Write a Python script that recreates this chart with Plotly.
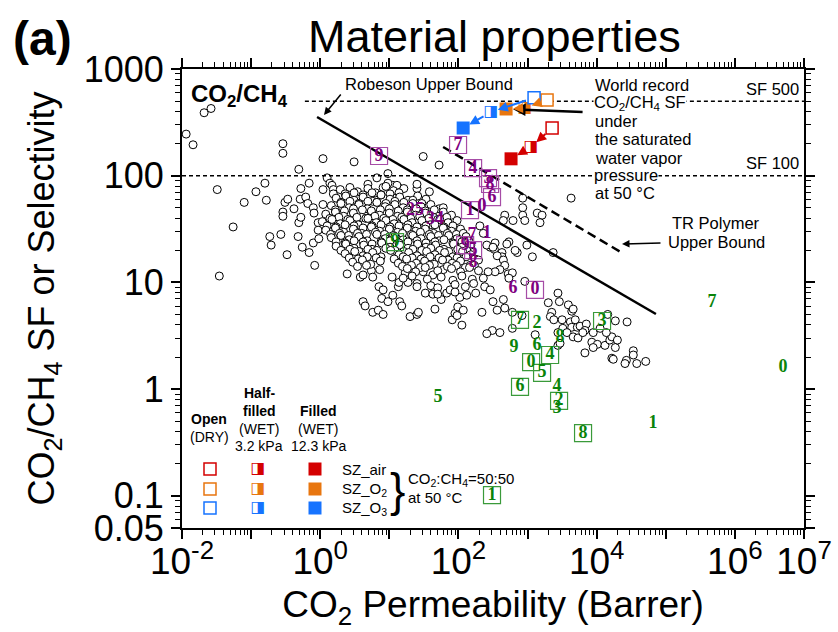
import numpy as np
import plotly.graph_objects as go

# ---------------- data ----------------
# Robeson database points, as (log10 permeability [Barrer], log10 selectivity)
db_pairs_log = [
    # scattered left / upper points
    (-1.94, 2.39), (-1.84, 2.29), (-1.68, 2.59), (-1.58, 2.63), (-1.49, 1.87), (-1.26, 1.52),
    (-1.46, 1.06), (-1.10, 1.75), (-0.93, 1.85), (-0.80, 1.93), (-0.78, 1.77), (-0.73, 1.43),
    (-0.71, 1.35), (-0.57, 1.45), (-0.48, 1.26), (-0.54, 1.66), (-0.54, 1.62), (-0.51, 1.75),
    (-0.47, 1.78), (-0.38, 1.69), (-0.32, 1.43), (-0.26, 1.33), (-0.31, 1.56), (-0.28, 1.61),
    (-0.29, 1.78), (-0.28, 1.88), (-0.21, 1.80), (-0.16, 1.28), (-0.16, 1.93), (-0.10, 1.37),
    (-0.08, 1.16), (-0.18, 1.74), (-0.10, 1.70), (-0.09, 1.65), (-0.02, 1.41), (-0.03, 1.56),
    (-0.03, 1.49), (0.04, 1.87), (0.04, 1.73), (0.10, 1.98), (0.14, 1.93), (0.17, 1.91),
    (0.19, 1.87), (0.19, 1.83), (-0.54, 2.30), (-0.54, 2.21), (-0.31, 2.06), (0.04, 2.16),
    (0.49, 2.13), (0.98, 2.02), (0.82, 1.98), (0.69, 1.92), (1.49, 2.18), (1.72, 2.10),
    (1.40, 1.88), (1.13, 1.89), (1.05, 1.91), (0.98, 1.93), (0.91, 1.89), (1.11, 1.91), (1.40, 1.92),
    # points right of the main cloud
    (3.63, 1.79), (2.93, 1.79), (2.93, 1.70), (2.93, 1.63), (3.14, 1.65), (3.21, 1.63),
    (2.67, 1.63), (2.65, 1.58), (2.79, 1.58), (2.96, 1.58), (3.18, 1.56), (2.73, 1.38),
    (2.85, 1.28), (2.99, 1.35), (3.37, 1.28), (2.53, 1.37), (2.63, 1.28), (2.31, 1.53),
    (2.36, 1.46), (2.46, 1.33), (3.07, 1.24), (2.70, 1.36), (2.96, 1.01), (2.72, 1.08),
    (2.63, 1.24), (2.52, 1.31), (2.56, 1.25), (2.41, 1.35), (2.50, 1.33), (2.65, 1.21),
    (2.67, 1.16), (2.82, 1.30), (2.78, 1.09), (2.73, 1.04), (2.60, 1.12), (2.53, 1.10),
    (2.43, 1.10), (2.36, 1.04), (2.38, 0.96), (2.46, 0.93), (2.50, 0.82), (2.65, 0.84),
    (2.67, 0.76), (2.56, 0.74), (2.34, 0.72), (2.78, 0.72), (2.78, 0.57), (2.92, 0.69),
    (2.49, 0.55), (2.60, 0.53), (2.41, 0.52), (3.11, 0.51), (3.44, 0.90), (3.30, 0.81),
    (3.35, 0.72), (3.33, 0.68), (3.38, 0.65), (3.46, 0.82), (3.59, 0.79), (3.64, 0.73),
    (3.50, 0.65), (3.62, 0.63), (3.69, 0.65), (3.51, 0.57), (3.64, 0.58), (3.72, 0.58),
    (3.76, 0.59), (3.85, 0.61), (3.44, 0.53), (3.57, 0.53), (3.66, 0.49), (3.73, 0.48),
    (3.83, 0.55), (3.95, 0.53), (3.93, 0.44), (3.83, 0.34), (4.01, 0.42), (4.12, 0.41),
    (4.19, 0.46), (4.27, 0.39), (4.22, 0.49), (4.16, 0.70), (4.27, 0.64), (4.44, 0.63),
    (4.05, 0.57), (4.22, 0.29), (4.43, 0.27), (4.41, 0.24), (4.58, 0.24), (4.71, 0.26),
    (4.53, 0.36), (4.53, 0.32), (3.44, 0.41), (3.47, 0.43), (3.66, 0.75), (3.80, 0.53),
    (4.14, 0.53), (4.30, 0.46), (4.24, 0.28), (3.95, 0.39),
    # points below the main cloud
    (0.39, 1.08), (0.58, 1.05), (0.62, 1.07), (0.74, 1.11), (0.76, 1.05), (0.85, 0.96),
    (0.91, 0.93), (0.89, 0.85), (0.98, 0.82), (1.05, 0.88), (1.13, 0.96), (1.14, 1.00),
    (1.04, 1.05), (0.62, 0.82), (0.65, 0.78), (0.76, 0.72), (0.84, 0.74), (0.91, 0.70),
    (1.15, 0.82), (1.18, 0.78), (1.30, 0.68), (1.40, 0.70), (1.42, 0.72), (1.40, 0.99),
    (1.40, 0.96), (1.52, 0.90), (1.63, 0.89), (1.66, 0.75), (1.75, 0.84), (1.83, 0.90),
    (1.88, 0.93), (1.91, 0.65), (2.05, 0.60), (1.95, 0.71), (1.98, 0.69), (1.99, 0.77),
    (2.07, 0.74), (2.02, 0.86), (1.49, 1.10), (1.63, 1.07), (1.78, 1.12), (1.27, 1.00),
    (1.23, 1.09),
    # dense main cloud
    (0.29, 1.87), (0.43, 1.89), (0.54, 1.85), (0.69, 1.88), (0.80, 1.84), (0.95, 1.90),
    (1.06, 1.86), (1.21, 1.88), (1.58, 1.85),
    (0.36, 1.83), (0.49, 1.84), (0.62, 1.82), (0.75, 1.84), (0.88, 1.82), (1.01, 1.83), (1.14, 1.84),
    (0.23, 1.79), (0.37, 1.81), (0.49, 1.77), (0.62, 1.80), (0.76, 1.76), (0.88, 1.82),
    (1.01, 1.78), (1.15, 1.80), (1.27, 1.77), (1.41, 1.81), (1.53, 1.78),
    (0.30, 1.75), (0.43, 1.76), (0.56, 1.74), (0.69, 1.76), (0.82, 1.75), (0.95, 1.74),
    (1.08, 1.76), (1.21, 1.75), (1.34, 1.77), (1.47, 1.74),
    (0.16, 1.72), (0.30, 1.74), (0.42, 1.70), (0.56, 1.73), (0.68, 1.69), (0.82, 1.75),
    (0.94, 1.71), (1.08, 1.73), (1.20, 1.70), (1.34, 1.74), (1.46, 1.71), (1.60, 1.73), (1.72, 1.69),
    (0.22, 1.68), (0.35, 1.67), (0.48, 1.69), (0.61, 1.68), (0.74, 1.66), (0.87, 1.68),
    (1.00, 1.69), (1.13, 1.67), (1.26, 1.68), (1.39, 1.69), (1.52, 1.67), (1.65, 1.68), (1.78, 1.70),
    (0.08, 1.64), (0.22, 1.66), (0.34, 1.62), (0.48, 1.65), (0.60, 1.61), (0.74, 1.67),
    (0.86, 1.63), (1.00, 1.65), (1.12, 1.62), (1.26, 1.66), (1.38, 1.63), (1.52, 1.65),
    (1.64, 1.61), (1.78, 1.66), (1.90, 1.63),
    (0.14, 1.60), (0.27, 1.61), (0.40, 1.59), (0.53, 1.61), (0.66, 1.60), (0.79, 1.62),
    (0.92, 1.60), (1.05, 1.59), (1.18, 1.61), (1.31, 1.60), (1.44, 1.62), (1.57, 1.60),
    (1.70, 1.59), (1.83, 1.61),
    (0.03, 1.57), (0.17, 1.59), (0.29, 1.55), (0.43, 1.58), (0.55, 1.54), (0.69, 1.60),
    (0.81, 1.56), (0.95, 1.58), (1.07, 1.55), (1.21, 1.59), (1.33, 1.56), (1.47, 1.58),
    (1.59, 1.54), (1.73, 1.59), (1.85, 1.56), (1.98, 1.58),
    (0.10, 1.53), (0.23, 1.52), (0.36, 1.54), (0.49, 1.53), (0.62, 1.51), (0.75, 1.53),
    (0.88, 1.54), (1.01, 1.52), (1.14, 1.53), (1.27, 1.54), (1.40, 1.52), (1.53, 1.53),
    (1.66, 1.54), (1.79, 1.52), (1.92, 1.53),
    (0.08, 1.49), (0.22, 1.51), (0.34, 1.47), (0.48, 1.50), (0.60, 1.46), (0.74, 1.52),
    (0.86, 1.48), (1.00, 1.50), (1.12, 1.47), (1.26, 1.51), (1.38, 1.48), (1.52, 1.50),
    (1.64, 1.46), (1.78, 1.51), (1.90, 1.48), (2.03, 1.50),
    (0.15, 1.45), (0.28, 1.46), (0.41, 1.44), (0.54, 1.46), (0.67, 1.45), (0.80, 1.47),
    (0.93, 1.45), (1.06, 1.44), (1.19, 1.46), (1.32, 1.45), (1.45, 1.47), (1.58, 1.45),
    (1.71, 1.44), (1.84, 1.46), (1.97, 1.45), (2.07, 1.46),
    (0.16, 1.42), (0.30, 1.44), (0.42, 1.40), (0.56, 1.43), (0.68, 1.39), (0.82, 1.45),
    (0.94, 1.41), (1.08, 1.43), (1.20, 1.40), (1.34, 1.44), (1.46, 1.41), (1.60, 1.43),
    (1.72, 1.39), (1.86, 1.44), (1.98, 1.41), (2.11, 1.43),
    (0.23, 1.38), (0.36, 1.37), (0.49, 1.39), (0.62, 1.38), (0.75, 1.36), (0.88, 1.38),
    (1.01, 1.39), (1.14, 1.37), (1.27, 1.38), (1.40, 1.39), (1.53, 1.37), (1.66, 1.38),
    (1.79, 1.40), (1.92, 1.37), (2.05, 1.38), (2.15, 1.39),
    (0.23, 1.34), (0.37, 1.36), (0.49, 1.32), (0.63, 1.35), (0.75, 1.31), (0.89, 1.37),
    (1.01, 1.33), (1.15, 1.35), (1.27, 1.32), (1.41, 1.36), (1.53, 1.33), (1.67, 1.35),
    (1.79, 1.31), (1.93, 1.36), (2.05, 1.33), (2.18, 1.35),
    (0.30, 1.30), (0.43, 1.31), (0.56, 1.29), (0.69, 1.31), (0.82, 1.30), (0.95, 1.32),
    (1.08, 1.30), (1.21, 1.29), (1.34, 1.31), (1.47, 1.30), (1.60, 1.32), (1.73, 1.30),
    (1.86, 1.29), (1.99, 1.31), (2.12, 1.30),
    (0.36, 1.27), (0.50, 1.29), (0.62, 1.25), (0.76, 1.28), (0.88, 1.24), (1.02, 1.30),
    (1.14, 1.26), (1.28, 1.28), (1.40, 1.25), (1.54, 1.29), (1.66, 1.26), (1.80, 1.28),
    (1.92, 1.24), (2.06, 1.29), (2.18, 1.26),
    (0.42, 1.23), (0.55, 1.22), (0.68, 1.24), (0.81, 1.23), (1.07, 1.22), (1.20, 1.24),
    (1.33, 1.23), (1.46, 1.22), (1.59, 1.24), (1.72, 1.23), (1.85, 1.21), (1.98, 1.23),
    (2.11, 1.24), (2.24, 1.22),
    (0.47, 1.19), (0.61, 1.21), (0.73, 1.17), (0.87, 1.20), (1.13, 1.18), (1.25, 1.22),
    (1.39, 1.18), (1.51, 1.20), (1.65, 1.17), (1.77, 1.21), (1.91, 1.18), (2.03, 1.20),
    (2.17, 1.16), (2.29, 1.21),
    (0.54, 1.15), (0.67, 1.16), (1.19, 1.15), (1.32, 1.16), (1.45, 1.14), (1.58, 1.16),
    (1.84, 1.15), (1.97, 1.16), (2.10, 1.14), (2.23, 1.16),
    (0.86, 1.12), (1.26, 1.13), (1.38, 1.10), (1.52, 1.14), (1.70, 1.11), (1.90, 1.13),
    (2.03, 1.10), (2.16, 1.14), (2.29, 1.11),
    (1.20, 1.04), (1.33, 1.06), (1.55, 1.03), (1.75, 1.05), (1.92, 1.02), (2.05, 1.06), (2.20, 1.03),
    (1.60, 0.97), (1.70, 0.95), (1.95, 0.98), (2.10, 0.96), (2.22, 0.99),
    (1.70, 0.89), (1.95, 0.91), (2.12, 0.88), (2.25, 0.90),
]
db_log_perm = [p[0] for p in db_pairs_log]
db_log_sel = [p[1] for p in db_pairs_log]

# upper bounds (end points)
robeson_perm = [0.9, 72000]
robeson_sel = [355, 5.06]
tr_perm = [60, 23400]
tr_sel = [186, 18.9]
sf500_perm = [0.6, 1e7]
sf500_sel = [500, 500]
sf100_perm = [0.01, 1e7]
sf100_sel = [100, 100]

# numbered literature points
purple_labels = ["9", "7", "4", "5", "8", "6", "0", "1", "7", "1", "9", "5", "8", "25", "34", "6", "0"]
purple_perm = [7.1, 98.7, 163, 268, 287, 306, 219, 147, 157, 260, 125, 163, 163, 23.5, 45.8, 617, 1282]
purple_sel = [153, 194, 118, 95, 83.6, 63, 51, 47.7, 27.8, 29, 22.4, 20.1, 15.5, 47.7, 38.5, 8.85, 8.5]
purple_boxed = [1, 1, 1, 1, 1, 1, 0, 1, 0, 0, 1, 1, 0, 0, 0, 0, 1]

green_labels = ["9", "7", "2", "8", "9", "6", "4", "0", "5", "6", "4", "2", "3", "8", "3", "7", "0", "1", "5", "1"]
green_perm = [12.1, 778, 1371, 2951, 638, 1371, 2119, 1125, 1622, 778, 2673, 2857, 2673, 6353,
              11970, 468000, 4.98e6, 65500, 50.7, 306]
green_sel = [23.9, 4.45, 4.16, 3.07, 2.48, 2.59, 2.09, 1.79, 1.42, 1.05, 1.05, 0.775, 0.665, 0.388,
             4.35, 6.55, 1.61, 0.481, 0.843, 0.1016]
green_boxed = [1, 1, 0, 0, 0, 0, 1, 1, 1, 1, 0, 1, 0, 1, 1, 0, 0, 0, 0, 1]

# SZ membranes: open (dry) -> half-filled (3.2 kPa) -> filled (12.3 kPa)
sz_names = ["SZ_air", "SZ_O<sub>2</sub>", "SZ_O<sub>3</sub>"]
sz_colors = ["#d40000", "#e8760f", "#1673ff"]
open_perm = [2265, 1915, 1242]
open_sel = [280, 512, 538]
half_perm = [1125, 920, 297]
half_sel = [186, 431, 395]
filled_perm = [577, 489, 117]
filled_sel = [144, 422, 280]

# axis ticks
x_tick_vals = [1e-2, 1e-1, 1e0, 1e1, 1e2, 1e3, 1e4, 1e5, 1e6, 1e7]
x_tick_text = ["10<sup>-2</sup>", " ", "10<sup>0</sup>", " ", "10<sup>2</sup>", " ", "10<sup>4</sup>", " ",
               "10<sup>6</sup>", "10<sup>7</sup>"]
y_tick_vals = [0.05, 0.1, 1, 10, 100, 1000]
y_tick_text = ["0.05", "0.1", "1", "10", "100", "1000"]

# ---------------- figure ----------------
L, R, T, B = 182, 34, 69, 104
W, H = 838, 632
PW, PH = W - L - R, H - T - B


def P(px, py):
    return (px - L) / PW, (H - B - py) / PH


PURPLE = "#800080"
PURPLE_BOX = "#a64ca6"
GREEN = "#0a840a"
GREEN_BOX = "#3a9a3a"
AX_FONT = "Liberation Sans Narrow, Liberation Sans, Arial, sans-serif"
TXT_FONT = "Liberation Sans, Arial, sans-serif"
SERIF = "Liberation Serif, Times New Roman, serif"

fig = go.Figure()

fig.add_trace(go.Scatter(
    x=np.power(10.0, db_log_perm), y=np.power(10.0, db_log_sel), mode="markers",
    marker=dict(symbol="circle", size=8, color="white", line=dict(color="black", width=1)),
    hoverinfo="skip", showlegend=False))

for xs, ys, dash, w in [(sf500_perm, sf500_sel, "4px,3px", 1.5), (sf100_perm, sf100_sel, "4px,3px", 1.5),
                        (robeson_perm, robeson_sel, "solid", 2.5), (tr_perm, tr_sel, "9px,5px", 2.5)]:
    fig.add_trace(go.Scatter(x=xs, y=ys, mode="lines", line=dict(color="black", width=w, dash=dash),
                             hoverinfo="skip", showlegend=False))

# numbered points
for labels, px_, py_, boxed, col, bcol in [
        (purple_labels, purple_perm, purple_sel, purple_boxed, PURPLE, PURPLE_BOX),
        (green_labels, green_perm, green_sel, green_boxed, GREEN, GREEN_BOX)]:
    bx = [p for p, b in zip(px_, boxed) if b]
    by = [s for s, b in zip(py_, boxed) if b]
    fig.add_trace(go.Scatter(x=bx, y=by, mode="markers",
                             marker=dict(symbol="square-open", size=17, color=bcol, line=dict(width=1.2)),
                             hoverinfo="skip", showlegend=False))
    fig.add_trace(go.Scatter(x=px_, y=py_, mode="text", text=["<b>%s</b>" % t for t in labels],
                             textfont=dict(family=SERIF, size=18, color=col),
                             textposition="middle center", hoverinfo="skip", showlegend=False))

# SZ points
for i in range(3):
    c = sz_colors[i]
    fig.add_trace(go.Scatter(x=[open_perm[i]], y=[open_sel[i]], mode="markers",
                             marker=dict(symbol="square", size=12, color="white", line=dict(color=c, width=1.5)),
                             hoverinfo="skip", showlegend=False))
    fig.add_trace(go.Scatter(x=[half_perm[i]], y=[half_sel[i]], mode="text", text=["◨"],
                             textfont=dict(family="DejaVu Sans", size=16, color=c),
                             textposition="middle center", hoverinfo="skip", showlegend=False))
    fig.add_trace(go.Scatter(x=[filled_perm[i]], y=[filled_sel[i]], mode="markers",
                             marker=dict(symbol="square", size=13, color=c, line=dict(width=0)),
                             hoverinfo="skip", showlegend=False))

# legend key (overlay axes in plot fraction units)
key_cols = [210, 258, 315]
key_rows = [469, 489, 508]
for i in range(3):
    c = sz_colors[i]
    xo, yo = P(key_cols[0], key_rows[i])
    xh, yh = P(key_cols[1], key_rows[i])
    xf, yf = P(key_cols[2], key_rows[i])
    fig.add_trace(go.Scatter(x=[xo], y=[yo], xaxis="x2", yaxis="y2", mode="markers",
                             marker=dict(symbol="square", size=12, color="white", line=dict(color=c, width=1.5)),
                             hoverinfo="skip", showlegend=False))
    fig.add_trace(go.Scatter(x=[xh], y=[yh], xaxis="x2", yaxis="y2", mode="text", text=["◨"],
                             textfont=dict(family="DejaVu Sans", size=16, color=c),
                             hoverinfo="skip", showlegend=False))
    fig.add_trace(go.Scatter(x=[xf], y=[yf], xaxis="x2", yaxis="y2", mode="markers",
                             marker=dict(symbol="square", size=13, color=c),
                             hoverinfo="skip", showlegend=False))

ann = []


def text(px, py, s, size=16, xanchor="left", bold=False, family=TXT_FONT, bg=None, color="black"):
    x, y = P(px, py)
    d = dict(x=x, y=y, xref="paper", yref="paper", text=("<b>%s</b>" % s) if bold else s,
             showarrow=False, xanchor=xanchor, yanchor="middle",
             font=dict(size=size, family=family, color=color))
    if bg:
        d["bgcolor"] = bg
        d["borderpad"] = 0
    ann.append(d)


text(42, 38, "(a)", size=48, xanchor="center", bold=True)
text(494, 37, "Material properties", size=45, xanchor="center")
text(189, 95, "CO<sub>2</sub>/CH<sub>4</sub>", size=24, bold=True)
text(343, 84, "Robeson Upper Bound", size=16.5)
text(801, 89, "SF 500", size=16.5, xanchor="right")
text(801, 163, "SF 100", size=16.5, xanchor="right")
wr_lines = [("World record", 85, None), ("CO<sub>2</sub>/CH<sub>4</sub> SF", 103, "white"), ("under", 121, None),
            ("the saturated", 139, None), ("water vapor", 158, None), ("pressure", 175, "white"),
            ("at 50 °C", 193, None)]
for s, yy, bg in wr_lines:
    text(593, yy, s, size=16.5, bg=bg)
text(716, 223, "TR Polymer", size=16.5, xanchor="center")
text(716, 242, "Upper Bound", size=16.5, xanchor="center")

# legend headers
text(209, 419, "Open", size=14, xanchor="center", bold=True)
text(209, 437, "(DRY)", size=14, xanchor="center")
text(259, 393, "Half-", size=14, xanchor="center", bold=True)
text(259, 411, "filled", size=14, xanchor="center", bold=True)
text(259, 429, "(WET)", size=14, xanchor="center")
text(259, 446, "3.2 kPa", size=14, xanchor="center")
text(318, 411, "Filled", size=14, xanchor="center", bold=True)
text(318, 429, "(WET)", size=14, xanchor="center")
text(318, 446, "12.3 kPa", size=14, xanchor="center")
for i in range(3):
    text(340, key_rows[i], sz_names[i], size=15)
text(397, 490, "}", size=46, xanchor="center")
text(406, 479, "CO<sub>2</sub>:CH<sub>4</sub>=50:50", size=15)
text(406, 497, "at 50 °C", size=15)

# arrows
hx, hy = P(324, 115)
ann.append(dict(x=hx, y=hy, xref="paper", yref="paper", ax=18, ay=-22, text="", showarrow=True,
                arrowhead=2, arrowsize=1, arrowwidth=1.5, arrowcolor="black"))
hx, hy = P(622, 244)
ann.append(dict(x=hx, y=hy, xref="paper", yref="paper", ax=40, ay=-1, text="", showarrow=True,
                arrowhead=2, arrowsize=1, arrowwidth=1.5, arrowcolor="black"))
ann.append(dict(x=np.log10(filled_perm[1]), y=np.log10(filled_sel[1]), xref="x", yref="y",
                ax=78, ay=3, text="", showarrow=True, standoff=7,
                arrowhead=2, arrowsize=1, arrowwidth=2.5, arrowcolor="black"))
for i in range(3):
    c = sz_colors[i]
    for (p0, s0), (p1, s1) in [((open_perm[i], open_sel[i]), (half_perm[i], half_sel[i])),
                               ((half_perm[i], half_sel[i]), (filled_perm[i], filled_sel[i]))]:
        ann.append(dict(x=np.log10(p1), y=np.log10(s1), ax=np.log10(p0), ay=np.log10(s0),
                        xref="x", yref="y", axref="x", ayref="y", text="", showarrow=True,
                        standoff=7, startstandoff=7, arrowhead=2, arrowsize=1, arrowwidth=2,
                        arrowcolor=c))

x_minor = [k * 10.0 ** n for n in range(-2, 7) for k in range(2, 10)]
y_minor = [k * 10.0 ** n for n in range(-2, 3) for k in range(2, 10) if k * 10.0 ** n > 0.05]

axis_common = dict(showline=True, linecolor="black", linewidth=2, mirror="allticks",
                   ticks="outside", ticklen=9, tickwidth=1.5, tickcolor="black",
                   showgrid=False, zeroline=False, tickmode="array", tickangle=0)

fig.update_layout(
    width=W, height=H, margin=dict(l=L, r=R, t=T, b=B, autoexpand=False),
    paper_bgcolor="white", plot_bgcolor="white", showlegend=False,
    xaxis=dict(type="log", range=[-2, 7], tickvals=x_tick_vals, ticktext=x_tick_text,
               tickfont=dict(family=AX_FONT, size=37, color="black"), ticklabelstandoff=-9,
               minor=dict(ticks="outside", ticklen=5, tickwidth=1.2, tickcolor="black",
                          tickmode="array", tickvals=x_minor),
               title=dict(text="CO<sub>2</sub> Permeability (Barrer)",
                          font=dict(family=TXT_FONT, size=37, color="black"), standoff=10),
               **axis_common),
    yaxis=dict(type="log", range=[np.log10(0.05), 3], tickvals=y_tick_vals, ticktext=y_tick_text,
               tickfont=dict(family=AX_FONT, size=36, color="black"),
               minor=dict(ticks="outside", ticklen=5, tickwidth=1.2, tickcolor="black",
                          tickmode="array", tickvals=y_minor),
               title=dict(text="CO<sub>2</sub>/CH<sub>4</sub> SF or Selectivity",
                          font=dict(family=TXT_FONT, size=36, color="black"), standoff=18),
               **axis_common),
    xaxis2=dict(overlaying="x", range=[0, 1], visible=False, fixedrange=True),
    yaxis2=dict(overlaying="y", range=[0, 1], visible=False, fixedrange=True),
    annotations=ann,
)

fig.write_html("out.html")
